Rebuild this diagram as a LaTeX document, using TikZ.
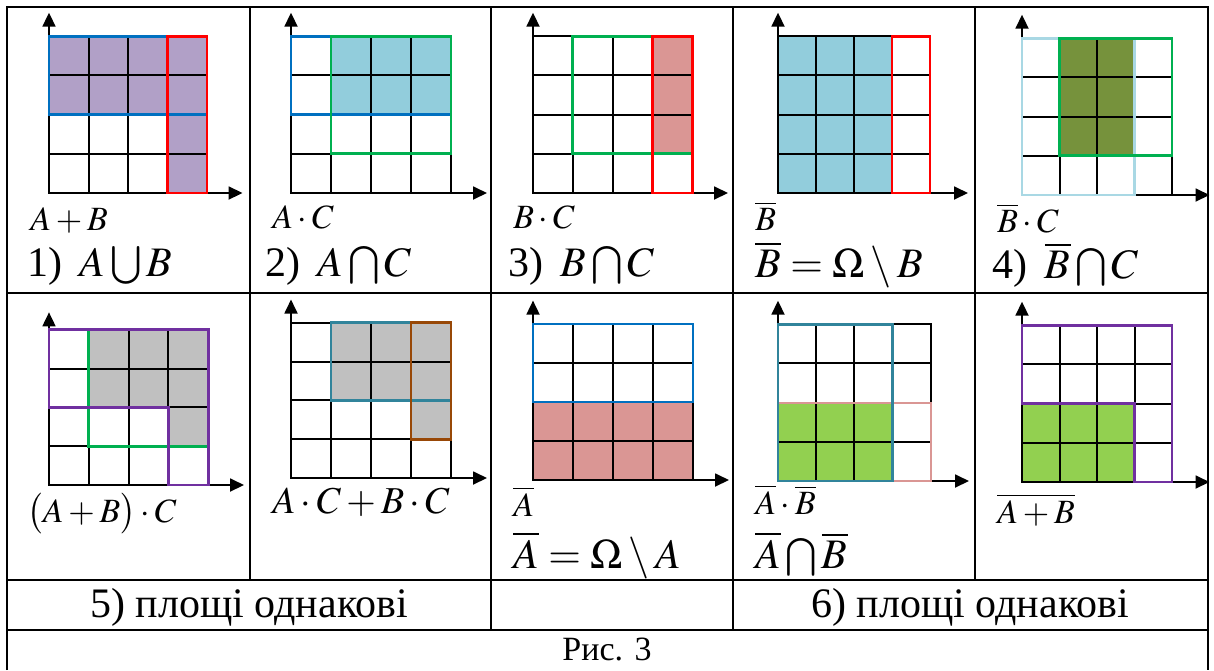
\documentclass[tikz,border=0pt]{standalone}
\usepackage{mathptmx}
\usepackage{fontspec}
\setmainfont{Liberation Serif}
\usetikzlibrary{arrows.meta}

\definecolor{setpurple}{HTML}{B1A0C7}
\definecolor{setblue}{HTML}{0070C0}
\definecolor{setred}{HTML}{FF0000}
\definecolor{skyfill}{HTML}{92CDDC}
\definecolor{setgreen}{HTML}{00B050}
\definecolor{rosefill}{HTML}{DA9694}
\definecolor{olivefill}{HTML}{76923C}
\definecolor{paleblue}{HTML}{A9D8E4}
\definecolor{violet}{HTML}{7030A0}
\definecolor{grayfill}{HTML}{C0C0C0}
\definecolor{teal}{HTML}{31849B}
\definecolor{brown}{HTML}{984807}
\definecolor{limefill}{HTML}{92D050}

\newcommand{\cellgrid}{%
  \foreach \i in {0,...,4} {
    \draw[gridline] (\i,0) -- (\i,4);
    \draw[gridline] (0,\i) -- (4,\i);
  }}

\tikzset{
  rule/.style={line width=1pt},
  gridline/.style={line width=1pt, line cap=rect},
  axis/.style={line width=0.9pt, -{Triangle[length=7pt,width=6.5pt]}},
  outline/.style={line width=1.4pt},
  small/.style={inner sep=0pt, anchor=base west, font=\fontsize{17}{19}\selectfont},
  big/.style={inner sep=0pt, anchor=base west, font=\fontsize{21}{24}\selectfont},
  cellname/.style={inner sep=0pt, anchor=base, font=\fontsize{21}{24}\selectfont}
}

\begin{document}
\begin{tikzpicture}[x=0.5pt, y=-0.5pt]
  \useasboundingbox (0,0) rectangle (1214,670);

  % table
  \draw[rule] (7,670) -- (7,7) -- (1208,7) -- (1208,670);
  \draw[rule] (7,293) -- (1208,293);
  \draw[rule] (7,580) -- (1208,580);
  \draw[rule] (7,630) -- (1208,630);
  \foreach \x in {250,491,733,975}
    \draw[rule] (\x,7) -- (\x,580);
  \draw[rule] (491,580) -- (491,630);
  \draw[rule] (733,580) -- (733,630);

  % 1) A+B
  \begin{scope}[shift={(49,193)}, x=19.75pt, y=19.6pt]
    \fill[setpurple] (0,2) rectangle (4,4) (3,0) rectangle (4,2);
    \cellgrid
    \draw[axis] (0,0) -- (0,4.6);
    \draw[axis] (4,0) -- (4.9,0);
    \draw[outline, setblue] (0,2) rectangle (4,4);
    \draw[outline, setred] (3,0) rectangle (4,4);
  \end{scope}

  % 2) A.C
  \begin{scope}[shift={(291,193)}, x=20pt, y=19.6pt]
    \fill[skyfill] (1,2) rectangle (4,4);
    \cellgrid
    \draw[axis] (0,0) -- (0,4.6);
    \draw[axis] (4,0) -- (4.9,0);
    \draw[outline, setblue] (0,2) rectangle (4,4);
    \draw[outline, setgreen] (1,1) rectangle (4,4);
  \end{scope}

  % 3) B.C
  \begin{scope}[shift={(533,193)}, x=19.9pt, y=19.6pt]
    \fill[rosefill] (3,1) rectangle (4,4);
    \cellgrid
    \draw[axis] (0,0) -- (0,4.6);
    \draw[axis] (4,0) -- (4.9,0);
    \draw[outline, setgreen] (1,1) rectangle (4,4);
    \draw[outline, setred] (3,0) rectangle (4,4);
  \end{scope}

  % complement of B
  \begin{scope}[shift={(778,193)}, x=19pt, y=19.6pt]
    \fill[skyfill] (0,0) rectangle (3,4);
    \cellgrid
    \draw[axis] (0,0) -- (0,4.6);
    \draw[axis] (4,0) -- (5,0);
    \draw[outline, setred] (3,0) rectangle (4,4);
  \end{scope}

  % 4) not-B . C
  \begin{scope}[shift={(1022,195)}, x=18.75pt, y=19.6pt]
    \fill[olivefill] (1,1) rectangle (3,4);
    \cellgrid
    \draw[axis] (0,0) -- (0,4.6);
    \draw[axis] (4,0) -- (5,0);
    \draw[outline, paleblue] (0,0) rectangle (3,4);
    \draw[outline, setgreen] (1,1) rectangle (4,4);
  \end{scope}

  % 5) (A+B).C
  \begin{scope}[shift={(49,485)}, x=19.9pt, y=19.4pt]
    \fill[grayfill] (1,2) rectangle (4,4) (3,1) rectangle (4,2);
    \cellgrid
    \draw[axis] (0,0) -- (0,4.45);
    \draw[axis] (4,0) -- (4.9,0);
    \draw[outline, setgreen] (1,1) rectangle (4,4);
    \draw[outline, violet] (0,2) -- (0,4) -- (4,4) -- (4,0) -- (3,0) -- (3,2) -- cycle;
  \end{scope}

  % 5) A.C+B.C
  \begin{scope}[shift={(291,478)}, x=20pt, y=19.4pt]
    \fill[grayfill] (1,2) rectangle (4,4) (3,1) rectangle (4,2);
    \cellgrid
    \draw[axis] (0,0) -- (0,4.6);
    \draw[axis] (4,0) -- (4.9,0);
    \draw[outline, teal] (1,2) rectangle (4,4);
    \draw[outline, brown] (3,1) rectangle (4,4);
  \end{scope}

  % complement of A
  \begin{scope}[shift={(533,480)}, x=20pt, y=19.5pt]
    \fill[rosefill] (0,0) rectangle (4,2);
    \cellgrid
    \draw[axis] (0,0) -- (0,4.6);
    \draw[axis] (4,0) -- (4.9,0);
    \draw[outline, setblue] (0,2) rectangle (4,4);
  \end{scope}

  % 6) not-A . not-B
  \begin{scope}[shift={(778,481)}, x=19.1pt, y=19.6pt]
    \fill[limefill] (0,0) rectangle (3,2);
    \cellgrid
    \draw[axis] (0,0) -- (0,4.6);
    \draw[axis] (4,0) -- (5,0);
    \draw[line width=1pt, rosefill] (0,0) rectangle (4,2);
    \draw[outline, teal] (0,0) rectangle (3,4);
  \end{scope}

  % 6) not (A+B)
  \begin{scope}[shift={(1022,482)}, x=18.75pt, y=19.6pt]
    \fill[limefill] (0,0) rectangle (3,2);
    \cellgrid
    \draw[axis] (0,0) -- (0,4.6);
    \draw[axis] (4,0) -- (5,0);
    \draw[outline, violet] (0,2) -- (0,4) -- (4,4) -- (4,0) -- (3,0) -- (3,2) -- cycle;
  \end{scope}

  % labels, first row
  \node[small] (sumAB)  at (30,230)  {$A+B$};
  \node[big]   (cupAB)  at (27,276)  {1)\, $A\bigcup B$};
  \node[small] (prodAC) at (272,228) {$A\cdot C$};
  \node[big]   (capAC)  at (265,276) {2)\, $A\bigcap C$};
  \node[small] (prodBC) at (513,228) {$B\cdot C$};
  \node[big]   (capBC)  at (508,276) {3)\, $B\bigcap C$};
  \node[small] (notB)   at (755,230) {$\overline{B}$};
  \node[big]   (diffB)  at (755,277) {$\overline{B}=\Omega\setminus B$};
  \node[small] (prodnBC) at (997,232) {$\overline{B}\cdot C$};
  \node[big]   (capnBC) at (992,278) {4)\, $\overline{B}\bigcap C$};

  % labels, second row
  \node[small] (sumABC) at (27,522)  {$\bigl(A+B\bigr)\cdot C$};
  \node[small, font=\fontsize{19}{21}\selectfont] (sumACBC) at (272,513) {$A\cdot C+B\cdot C$};
  \node[small] (notA)   at (513,516) {$\overline{A}$};
  \node[big]   (diffA)  at (513,568) {$\overline{A}=\Omega\setminus A$};
  \node[small] (prodnAnB) at (755,514) {$\overline{A}\cdot\overline{B}$};
  \node[big]   (capnAnB) at (755,568) {$\overline{A}\bigcap\overline{B}$};
  \node[small] (notsumAB) at (997,523) {$\overline{A+B}$};

  % bottom rows
  \node[cellname] (same5) at (249,617) {5) площі однакові};
  \node[cellname] (same6) at (970,617) {6) площі однакові};
  \node[cellname, font=\fontsize{17}{20}\selectfont] (fig) at (607,660) {Рис. 3};
\end{tikzpicture}
\end{document}
